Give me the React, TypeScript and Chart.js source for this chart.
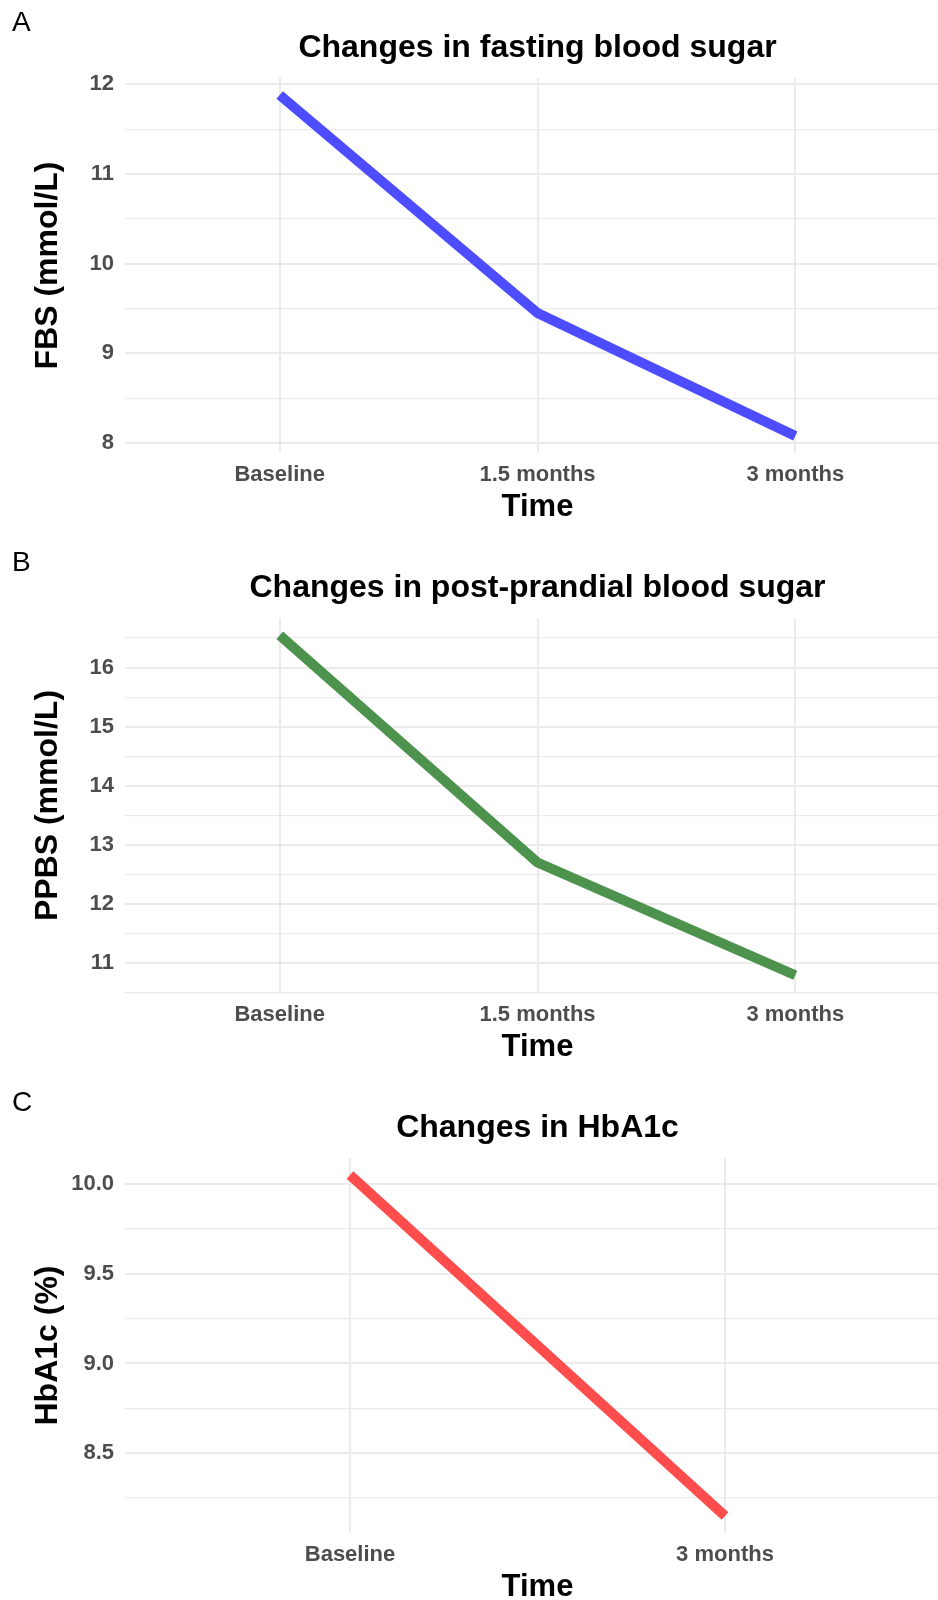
import React, { useEffect, useRef } from 'react';
import { Chart, registerables } from 'chart.js';

Chart.register(...registerables);

const FONT = '"Liberation Sans", Arial, Helvetica, sans-serif';

// ---- data ----
const timeLabels3 = ['Baseline', '1.5 months', '3 months'];
const timeLabels2 = ['Baseline', '3 months'];
const fbsValues = [11.88, 9.45, 8.08];
const ppbsValues = [16.55, 12.7, 10.79];
const hba1cValues = [10.05, 8.15];
const fbsTicks = [8, 9, 10, 11, 12];
const ppbsTicks = [11, 12, 13, 14, 15, 16];
const hba1cTicks = [8.5, 9.0, 9.5, 10.0];

type PanelDef = {
  letter: string;
  title: string;
  yTitle: string;
  labels: string[];
  values: number[];
  majors: number[];
  step: number;
  decimals: number;
  yMin: number;
  yMax: number;
  color: string;
  top: number;
};

const panels: PanelDef[] = [
  {
    letter: 'A',
    title: 'Changes in fasting blood sugar',
    yTitle: 'FBS (mmol/L)',
    labels: timeLabels3,
    values: fbsValues,
    majors: fbsTicks,
    step: 1,
    decimals: 0,
    yMin: 7.89,
    yMax: 12.07,
    color: '#4D4DFF',
    top: 0,
  },
  {
    letter: 'B',
    title: 'Changes in post-prandial blood sugar',
    yTitle: 'PPBS (mmol/L)',
    labels: timeLabels3,
    values: ppbsValues,
    majors: ppbsTicks,
    step: 1,
    decimals: 0,
    yMin: 10.49,
    yMax: 16.84,
    color: '#4D934D',
    top: 540,
  },
  {
    letter: 'C',
    title: 'Changes in HbA1c',
    yTitle: 'HbA1c (%)',
    labels: timeLabels2,
    values: hba1cValues,
    majors: hba1cTicks,
    step: 0.5,
    decimals: 1,
    yMin: 8.055,
    yMax: 10.145,
    color: '#FF4D4D',
    top: 1080,
  },
];

function Panel({ p }: { p: PanelDef }) {
  const ref = useRef<HTMLCanvasElement>(null);
  useEffect(() => {
    if (!ref.current) return;
    const isMajor = (v: number) => p.majors.some((m) => Math.abs(m - v) < 1e-6);
    const all: number[] = [];
    p.majors.forEach((m) => {
      all.push(m - p.step / 2);
      all.push(m);
    });
    all.push(p.majors[p.majors.length - 1] + p.step / 2);
    const yTicks = all.filter((v) => v >= p.yMin - 1e-9 && v <= p.yMax + 1e-9);

    const chart = new Chart(ref.current, {
      type: 'line',
      data: {
        datasets: [
          {
            data: p.values.map((v, i) => ({ x: i + 1, y: v })),
            borderColor: p.color,
            backgroundColor: p.color,
            borderWidth: 10,
            pointRadius: 0,
            pointHoverRadius: 0,
            borderJoinStyle: 'round',
            borderCapStyle: 'butt',
            tension: 0,
            fill: false,
          },
        ],
      },
      options: {
        animation: false,
        responsive: false,
        devicePixelRatio: 1,
        layout: { padding: 0 },
        events: [],
        plugins: {
          legend: { display: false },
          tooltip: { enabled: false },
          title: {
            display: true,
            text: p.title,
            fullSize: false,
            color: '#000000',
            font: { family: FONT, size: 32, weight: 'bold', lineHeight: 1.2 },
            padding: { top: 28.8, bottom: 10.8 },
          },
        },
        scales: {
          x: {
            type: 'linear',
            min: 0.4,
            max: p.labels.length + 0.6,
            bounds: 'data',
            afterBuildTicks: (ax: any) => {
              ax.ticks = p.labels.map((_, i) => ({ value: i + 1 }));
            },
            afterFit: (ax: any) => {
              ax.height = 87;
            },
            ticks: {
              autoSkip: false,
              maxRotation: 0,
              padding: 9,
              color: '#4D4D4D',
              font: { family: FONT, size: 22, weight: 'bold', lineHeight: 1.2 },
              callback: (v: any) => p.labels[Math.round(Number(v)) - 1] ?? '',
            },
            grid: { color: '#EBEBEB', lineWidth: 2, drawTicks: false },
            border: { display: false },
            title: {
              display: true,
              text: 'Time',
              color: '#000000',
              font: { family: FONT, size: 31, weight: 'bold', lineHeight: 1.2 },
              padding: { top: 0, bottom: 14.4 },
            },
          },
          y: {
            type: 'linear',
            min: p.yMin,
            max: p.yMax,
            bounds: 'data',
            afterBuildTicks: (ax: any) => {
              ax.ticks = yTicks.map((v) => ({ value: v }));
            },
            afterFit: (ax: any) => {
              ax.width = 125;
            },
            ticks: {
              autoSkip: false,
              padding: 11,
              color: '#4D4D4D',
              font: { family: FONT, size: 22, weight: 'bold', lineHeight: 1.2 },
              callback: (v: any) => (isMajor(Number(v)) ? Number(v).toFixed(p.decimals) : ''),
            },
            grid: {
              color: '#EBEBEB',
              lineWidth: (ctx: any) => (isMajor(ctx.tick?.value) ? 2 : 1.2),
              drawTicks: false,
            },
            border: { display: false },
            title: {
              display: true,
              text: p.yTitle,
              color: '#000000',
              font: { family: FONT, size: 32, weight: 'bold', lineHeight: 1.2 },
              padding: { top: 28.8, bottom: 0 },
            },
          },
        },
      } as any,
    });
    return () => chart.destroy();
  }, [p]);

  return (
    <>
      <div
        style={{
          position: 'absolute',
          left: 12,
          top: p.top + 8,
          fontFamily: FONT,
          fontSize: 28,
          lineHeight: '28px',
          color: '#000',
          zIndex: 2,
        }}
      >
        {p.letter}
      </div>
      <div style={{ position: 'absolute', left: 0, top: p.top, width: 950, height: 540 }}>
        <canvas ref={ref} width={950} height={540} style={{ display: 'block', width: 950, height: 540 }} />
      </div>
    </>
  );
}

export default function App() {
  return (
    <div
      style={{
        position: 'absolute',
        left: 0,
        top: 0,
        width: 938,
        height: 1600,
        overflow: 'hidden',
        background: '#ffffff',
      }}
    >
      {panels.map((p) => (
        <Panel key={p.letter} p={p} />
      ))}
    </div>
  );
}
